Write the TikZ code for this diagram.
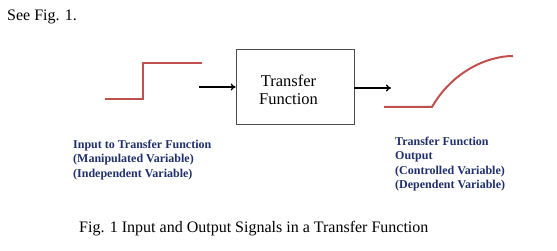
\documentclass[tikz,border=0pt]{standalone}
\usepackage{fontspec}
\setmainfont{Liberation Serif}
\usetikzlibrary{arrows.meta}
\definecolor{sig}{HTML}{C0504D}
\definecolor{lbl}{HTML}{1F2F6B}
\tikzset{
  signal/.style={draw=sig, line width=2pt, line join=miter},
  conn/.style={draw=black, line width=1.3pt, -{To[length=5pt,width=7pt]}},
  tfbox/.style={draw=black!70, line width=0.7pt, minimum width=118pt, minimum height=75pt, inner sep=0pt},
  boxtext/.style={align=center, inner sep=0pt, font=\fontsize{16.5}{18}\selectfont},
  bluelabel/.style={text=lbl, font=\bfseries\fontsize{12}{14.5}\selectfont, align=left, inner sep=0pt, anchor=north west},
  plaintext/.style={font=\fontsize{16}{19}\selectfont, inner sep=0pt, anchor=base west}
}
\begin{document}
\begin{tikzpicture}[x=1pt,y=-1pt]
\useasboundingbox (0,0) rectangle (557,251);
\node[plaintext] (see) at (7,21) {See Fig. 1.};
% input step
\coordinate (s0) at (105,99);
\coordinate (s1) at (143,99);
\coordinate (s2) at (143,63);
\coordinate (s3) at (202,63);
\draw[signal] (s0) -- (s1) -- (s2) -- (s3);
% box
\node[tfbox] (tf) at (295,86.5) {};
\node[boxtext, anchor=base] (tft) at (288.5,105) {Transfer\\Function};
\coordinate (a1) at (199,87);
\draw[conn] (a1) -- (a1 -| tf.west);
\coordinate (a2) at (391,88);
\draw[conn] (a2 -| tf.east) -- (a2);
% output response
\coordinate (o0) at (384,107);
\coordinate (o1) at (432,107);
\coordinate (o2) at (513,56);
\draw[signal] (o0) -- (o1) .. controls (452,72) and (487,56) .. (o2);
% labels
\node[bluelabel] (inl) at (73,139.5) {Input to Transfer Function\\(Manipulated Variable)\\(Independent Variable)};
\node[bluelabel] (outl) at (395,136.5) {Transfer Function\\Output\\(Controlled Variable)\\(Dependent Variable)};
\node[plaintext] (cap) at (79,232) {Fig. 1 Input and Output Signals in a Transfer Function};
\end{tikzpicture}
\end{document}
